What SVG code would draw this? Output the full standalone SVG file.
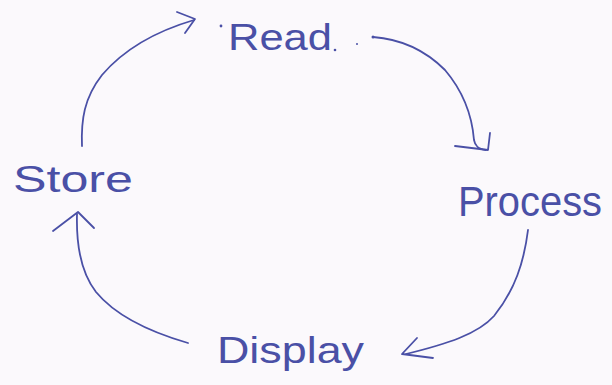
<svg xmlns="http://www.w3.org/2000/svg" width="612" height="385" viewBox="0 0 612 385">
  <style>
    .ink { stroke: #4a50a6; stroke-width: 1.8; fill: none; stroke-linecap: round; stroke-linejoin: round; }
    .label { font-family: "Liberation Sans", "DejaVu Sans", sans-serif; fill: #4a50a6; }
    .dot { fill: #4a50a6; }
  </style>
  <rect width="612" height="385" fill="#fbf9fc"/>

  <g id="node-read">
    <circle class="dot" cx="221" cy="26" r="1.4"/>
    <text class="label" x="228" y="50" font-size="37" textLength="104" lengthAdjust="spacingAndGlyphs">Read</text>
    <circle class="dot" cx="335" cy="50" r="1.3"/>
    <circle class="dot" cx="357" cy="44" r="1"/>
  </g>

  <g id="node-process">
    <text class="label" x="458" y="216" font-size="42" textLength="144" lengthAdjust="spacingAndGlyphs">Process</text>
  </g>

  <g id="node-display">
    <text class="label" x="217" y="363" font-size="36" textLength="147" lengthAdjust="spacingAndGlyphs">Display</text>
  </g>

  <g id="node-store">
    <text class="label" x="13" y="192" font-size="37" textLength="120" lengthAdjust="spacingAndGlyphs">Store</text>
  </g>

  <g id="connectors">
    <!-- Store to Read -->
    <path class="ink" d="M82,146 C81,120 84,98 102,75 C125,48 160,30 194,20"/>
    <path class="ink" d="M177,12 L195,19 L185,33"/>
    <!-- Read to Process -->
    <circle class="dot" cx="373" cy="37" r="1.5"/>
    <path class="ink" d="M373,37 C400,39 425,50 445,70 C462,90 472,115 474,140 C475,146 478,149 486,150"/>
    <path class="ink" d="M455,146 L488,150 L490,133"/>
    <!-- Process to Display -->
    <path class="ink" d="M528,230 C524,262 515,290 494,316 C478,334 447,344 406,354"/>
    <path class="ink" d="M417,338 L402,354 L433,358"/>
    <!-- Display to Store -->
    <path class="ink" d="M188,343 C150,332 115,315 96,292 C82,274 76,250 77,214"/>
    <path class="ink" d="M53,231 L78,212 L94,228"/>
  </g>
</svg>
